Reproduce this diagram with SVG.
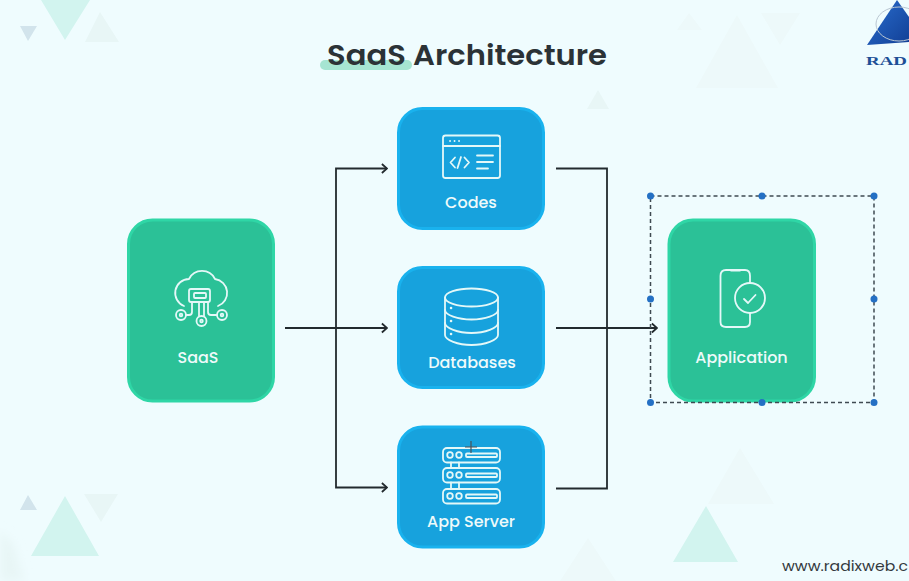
<svg xmlns="http://www.w3.org/2000/svg" width="909" height="581" viewBox="0 0 909 581">
<style>
.lbl{font-family:"Poppins","Inter","Liberation Sans",sans-serif;font-weight:500;font-size:16px;fill:#eefafa;text-anchor:middle}
.ic{fill:none;stroke:#e4f8f8;stroke-width:1.800;stroke-linecap:round;stroke-linejoin:round}
.gbox{fill:#2bc197;stroke:#2fd6a6;stroke-width:3}
.bbox{fill:#17a2dd;stroke:#19b2ee;stroke-width:3}
.con{fill:none;stroke:#222a2e;stroke-width:1.800}
.hd{fill:none;stroke:#222a2e;stroke-width:1.800}
.h{fill:#2470c4}
.sel{fill:none;stroke:#3f4a52;stroke-width:1.500;stroke-dasharray:4 3}
.t1{fill:#d2f4ef}.t2{fill:#e8f6f6}.t3{fill:#d2e4ec}.t4{fill:#edf9fa}
</style>
<defs>
<marker id="arr" viewBox="0 0 10 12" markerWidth="10" markerHeight="12" refX="8.600" refY="6" orient="auto" markerUnits="userSpaceOnUse"><path class="hd" d="M3.500 1.500 L8.600 6 L3.500 10.500"/></marker>
<linearGradient id="pyr" x1="0" y1="0" x2="1" y2="1"><stop offset="0" stop-color="#2a6fd0"/><stop offset="1" stop-color="#123f95"/></linearGradient>
<filter id="soft" x="-20%" y="-20%" width="140%" height="140%"><feGaussianBlur stdDeviation="0.700"/></filter>
<filter id="blob" x="-50%" y="-50%" width="200%" height="200%"><feGaussianBlur stdDeviation="5"/></filter>
</defs>
<rect id="background" width="909" height="581" fill="#effcfe"/>
<g id="decor" filter="url(#soft)">
<polygon class="t1" points="41,0 90,0 65,40"/>
<polygon class="t3" points="20,26 37,26 28,41"/>
<polygon class="t2" points="100,12 119,42 85,42"/>
<polygon class="t1" points="65,496 99,556 31,556"/>
<polygon class="t3" points="28,495 37,510 20,510"/>
<polygon class="t2" points="84,494 118,494 101,522"/>
<polygon class="t4" points="737,15 778,88 696,88"/>
<polygon class="t4" points="689,13 702,30 677,30"/>
<polygon class="t4" points="761,13 800,13 780,45"/>
<polygon class="t2" points="598,90 609,109 587,109"/>
<polygon class="t4" points="740,448 774,504 708,504"/>
<polygon class="t1" points="706,506 738,562 673,562"/>
<polygon class="t4" points="588,538 616,581 560,581"/>
</g>
<polygon id="decor-blob" class="t2" points="0,530 14,545 24,581 0,581" filter="url(#blob)"/>
<g id="logo">
<polygon points="897,0 909,17 909,42 867,45" fill="url(#pyr)"/>
<ellipse cx="899" cy="24" rx="23" ry="17" fill="none" stroke="#b9c6d2" stroke-width="1"/>
<text x="866" y="65" font-family="'Liberation Serif',serif" font-weight="700" font-size="13" fill="#1d4f96" textLength="41" lengthAdjust="spacingAndGlyphs">RAD</text>
</g>
<g id="title">
<rect x="320" y="60" width="92" height="10" rx="5" fill="#a6e5d2"/>
<text x="327" y="65" font-family="Poppins,Inter,'Liberation Sans',sans-serif" font-weight="600" font-size="29" fill="#2b3236" textLength="280" lengthAdjust="spacingAndGlyphs">SaaS Architecture</text>
</g>
<g id="connectors">
<path class="con" d="M285 328 H387" marker-end="url(#arr)"/>
<path class="con" d="M336 328 V168.500 H387" marker-end="url(#arr)"/>
<path class="con" d="M336 328 V487.500 H387" marker-end="url(#arr)"/>
<path class="con" d="M556 168.500 H607 V488.500 H556"/>
<path class="con" d="M556 328 H657" marker-end="url(#arr)"/>
</g>
<g id="node-saas">
<rect class="gbox" x="128.500" y="220" width="145" height="181" rx="24"/>
<g class="ic">
<path d="M184 306 A14 14 0 0 1 189 279 A14.500 14.500 0 0 1 215 279 A14 14 0 0 1 218 306"/>
<rect x="189" y="289" width="21" height="13" rx="2"/>
<rect x="194" y="293" width="12" height="5" rx="1"/>
<path d="M192 302 V312 Q192 315 189 315 H186 M199 302 V316 M204 302 V316 M208 302 V312 Q208 315 211 315 H217"/>
<circle cx="181" cy="315" r="5"/><circle cx="181" cy="315" r="1.300"/>
<circle cx="222" cy="315" r="5"/><circle cx="222" cy="315" r="1.300"/>
<circle cx="201.500" cy="321" r="5"/><circle cx="201.500" cy="321" r="1.300"/>
</g>
<text class="lbl" x="198" y="363">SaaS</text>
</g>
<g id="node-codes">
<rect class="bbox" x="398.500" y="108.500" width="145" height="120" rx="24"/>
<g class="ic">
<rect x="443" y="135.500" width="57" height="42.500" rx="2.500"/>
<path d="M443 146 H500"/>
<path d="M450 141 h.1 M454.500 141 h.1 M459 141 h.1"/>
<path d="M455 157.500 L450.500 162.500 L455 167.500 M461 157 L457.500 168 M464.500 157.500 L469 162.500 L464.500 167.500"/>
<path d="M477 155.500 H493 M477 162 H493 M477 168.500 H488"/>
</g>
<text class="lbl" x="471" y="208">Codes</text>
</g>
<g id="node-databases">
<rect class="bbox" x="398.500" y="267.500" width="145" height="120" rx="24"/>
<g class="ic">
<ellipse cx="471.500" cy="297.500" rx="26.500" ry="9"/>
<path d="M445 297.500 V335 C445 340 458 345 471.500 345 C485 345 498 340 498 335 V297.500"/>
<path d="M445 310 C445 315 458 319.500 471.500 319.500 C485 319.500 498 315 498 310"/>
<path d="M445 323 C445 328 458 333 471.500 333 C485 333 498 328 498 323"/>
<path d="M451 308 h.1 M451 321 h.1 M451 334 h.1" stroke-width="2.500"/>
</g>
<text class="lbl" x="472" y="368">Databases</text>
</g>
<g id="node-appserver">
<rect class="bbox" x="398.500" y="427" width="145" height="120" rx="24"/>
<g class="ic">
<rect x="443" y="448" width="57" height="14.500" rx="4"/>
<rect x="443" y="468" width="57" height="14.500" rx="4"/>
<rect x="443" y="489" width="57" height="14.500" rx="4"/>
<path d="M451 462.500 V468 M459 462.500 V468 M451 482.500 V489 M459 482.500 V489"/>
<circle cx="450" cy="455" r="2.800"/><circle cx="459" cy="455" r="2.800"/>
<circle cx="450" cy="475" r="2.800"/><circle cx="459" cy="475" r="2.800"/>
<circle cx="450" cy="496" r="2.800"/><circle cx="459" cy="496" r="2.800"/>
<rect x="466" y="453.500" width="31" height="3.500" rx="1"/>
<rect x="466" y="473.500" width="31" height="3.500" rx="1"/>
<rect x="466" y="494.500" width="31" height="3.500" rx="1"/>
</g>
<path d="M471 441 V453 M465 447 H477" stroke="#4a5258" stroke-width="1.200" fill="none"/>
<text class="lbl" x="471" y="527">App Server</text>
</g>
<g id="node-application">
<rect class="gbox" x="669" y="220" width="145.500" height="181" rx="24"/>
<g class="ic">
<path d="M750 313 V322 Q750 327 745 327 H726 Q720.500 327 720.500 322 V276 Q720.500 270 726 270 H745 Q750 270 750 276 V283"/>
<path d="M731 270.500 H740"/>
<circle cx="750" cy="298" r="15"/>
<path d="M744 299 L748 303 L755.500 295"/>
</g>
<text class="lbl" x="741.500" y="363">Application</text>
</g>
<g id="selection">
<rect class="sel" x="650.500" y="196" width="223.500" height="206.500"/>
<circle class="h" cx="650.500" cy="196" r="3.500"/>
<circle class="h" cx="762" cy="196" r="3.500"/>
<circle class="h" cx="874" cy="196" r="3.500"/>
<circle class="h" cx="650.500" cy="299" r="3.500"/>
<circle class="h" cx="874" cy="299" r="3.500"/>
<circle class="h" cx="650.500" cy="402.500" r="3.500"/>
<circle class="h" cx="762" cy="402.500" r="3.500"/>
<circle class="h" cx="874" cy="402.500" r="3.500"/>
</g>
<text id="url" x="782" y="571" font-family="Poppins,Inter,'Liberation Sans',sans-serif" font-size="15" fill="#33393d" textLength="126" lengthAdjust="spacingAndGlyphs">www.radixweb.c</text>
</svg>
